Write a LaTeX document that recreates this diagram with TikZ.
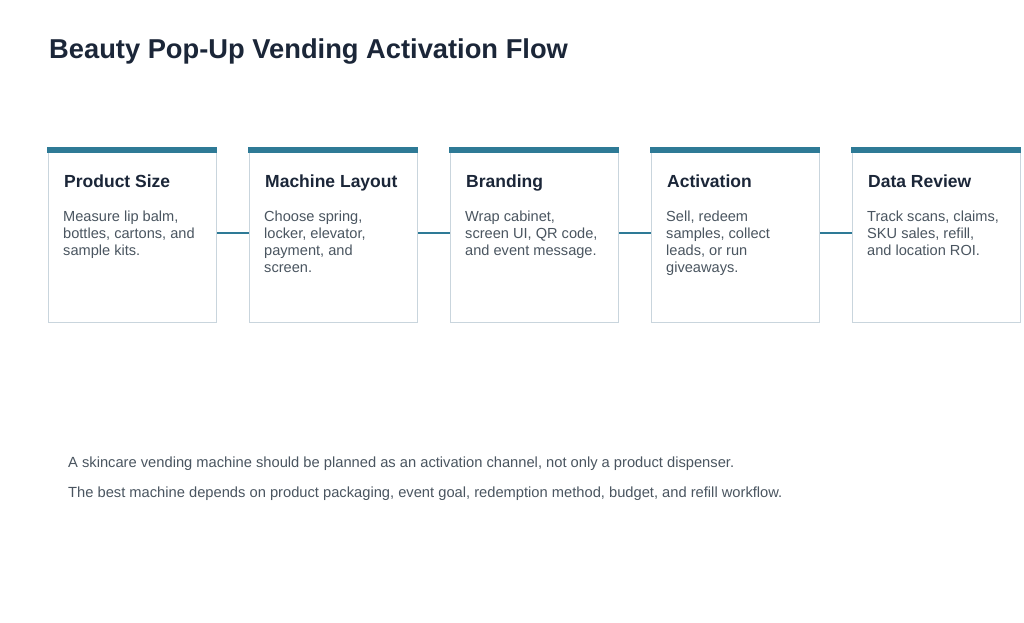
\documentclass[tikz,border=0pt]{standalone}
\usepackage{fontspec}
\setmainfont{Liberation Sans}
\definecolor{teal}{HTML}{2E7A96}
\definecolor{edge}{HTML}{C9D5DD}
\definecolor{navy}{HTML}{1B2638}
\definecolor{body}{HTML}{4A5560}
\begin{document}
\begin{tikzpicture}[x=1pt,y=-1pt,
  card/.style={draw=edge,line width=1.2pt,fill=white,minimum width=168pt,minimum height=175pt,anchor=north west,inner sep=0pt},
  head/.style={anchor=base west,font=\bfseries\fontsize{17.5}{20}\selectfont,text=navy,inner sep=0pt},
  desc/.style={anchor=north west,font=\fontsize{14.6}{17}\selectfont,text=body,align=left,inner sep=0pt},
  link/.style={draw=teal,line width=2.6pt},
  note/.style={anchor=base west,font=\fontsize{14.7}{17}\selectfont,text=body,inner sep=0pt}]
\useasboundingbox (0,0) rectangle (1024,622);
\fill[white] (0,0) rectangle (1024,622);
\node[anchor=base west,inner sep=0pt,text=navy,font=\bfseries\fontsize{27.3}{32}\selectfont] (title) at (49,58) {Beauty Pop-Up Vending Activation Flow};
\foreach \i/\x/\h/\d in {1/48/Product Size/{Measure lip balm,\\bottles, cartons, and\\sample kits.},
  2/249/Machine Layout/{Choose spring,\\locker, elevator,\\payment, and\\screen.},
  3/450/Branding/{Wrap cabinet,\\screen UI, QR code,\\and event message.},
  4/651/Activation/{Sell, redeem\\samples, collect\\leads, or run\\giveaways.},
  5/852/Data Review/{Track scans, claims,\\SKU sales, refill,\\and location ROI.}}{
  \node[card] (c\i) at (\x,147) {};
  \fill[teal] (\x-0.6,147) rectangle (\x+168.6,152.5);
  \node[head] (h\i) at (\x+16,187) {\h};
  \node[desc] (d\i) at (\x+15,211) {\d};
}
\foreach \a/\b in {1/2,2/3,3/4,4/5}{
  \draw[link] (c\a.east |- 0,233) -- (c\b.west |- 0,233);
}
\node[note] (n1) at (68,467) {A skincare vending machine should be planned as an activation channel, not only a product dispenser.};
\node[note] (n2) at (68,497) {The best machine depends on product packaging, event goal, redemption method, budget, and refill workflow.};
\end{tikzpicture}
\end{document}
